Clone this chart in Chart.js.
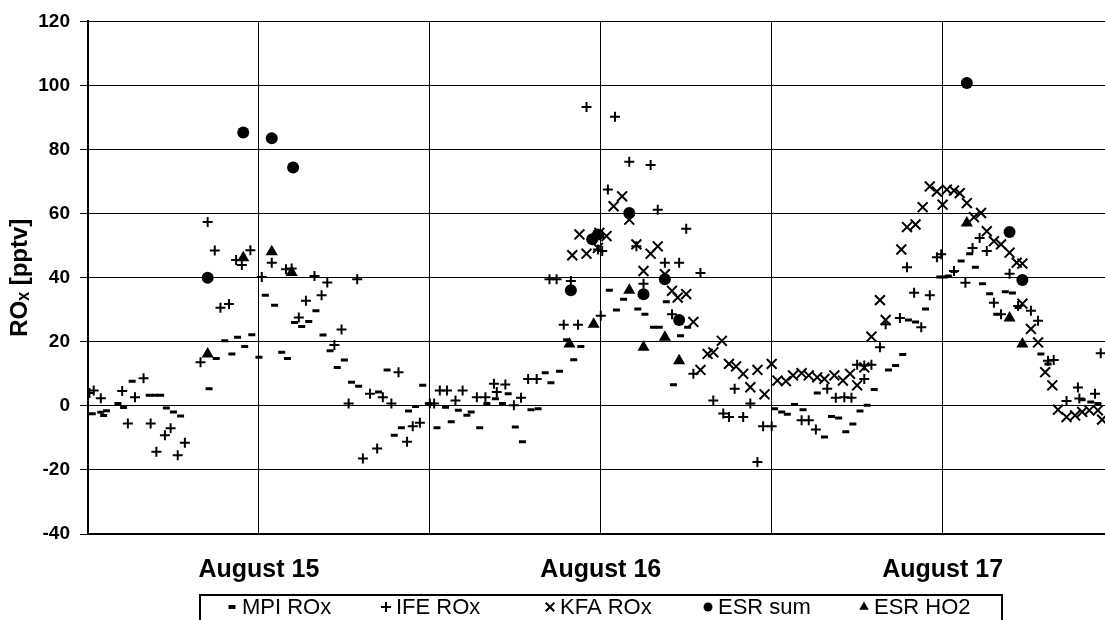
<!DOCTYPE html>
<html>
<head>
<meta charset="utf-8">
<script src="https://cdn.jsdelivr.net/npm/chart.js@4.4.0/dist/chart.umd.min.js"></script>
<style>
html, body { margin: 0; padding: 0; background: #fff; }
</style>
</head>
<body>
<canvas id="chart" width="1105" height="620"></canvas>
<script>
// hours since Aug 15 00:00, values in pptv
const dayLabels = ['August 15', 'August 16', 'August 17'];

const mpiHours = [0.3, 0.9, 1.1, 1.3, 2.1, 2.5, 3.1, 4.3, 4.7, 5.1, 5.5, 6.0, 6.5, 8.5, 9.0, 9.6, 10.1, 10.5, 11.0, 11.5, 12.0, 12.45,
  13.1, 13.6, 14.0, 14.5, 15.0, 15.5, 16.0, 16.5, 17.0, 17.5, 18.0, 18.5, 19.0, 20.4, 21.0, 21.5, 22.0, 22.5, 23.0, 23.5, 23.9,
  24.5, 25.1, 25.5, 26.0, 26.6, 26.9, 27.5, 28.0, 28.6, 29.1, 29.5, 30.0, 30.5, 31.1, 31.6, 32.1, 32.5, 33.1, 33.6, 34.1, 34.6,
  36.6, 37.1, 37.6, 38.6, 39.1, 39.7, 40.1, 40.6, 41.1, 41.6, 42.1,
  48.2, 48.7, 49.1, 49.6, 50.2, 51.2, 51.7, 52.2, 52.7, 53.2, 53.7, 54.2, 54.7, 55.2, 56.2, 56.7, 57.2, 57.6, 58.1, 58.8,
  59.8, 60.1, 60.4, 60.8, 61.3, 61.9, 62.3, 62.8, 63.3, 63.8, 64.4, 64.9, 65.3, 66.9, 67.4, 69.8, 70.4, 70.9];
const mpiValues = [-2.5, -2, -3, -1.5, 0.7, -0.5, 7.7, 3.3, 3.3, 3.3, -0.7, -1.9, -3.2, 5.3, 14.8, 20.3, 16.2, 21.4, 18.5, 22.2, 15.2, 34.5,
  31.4, 16.7, 14.8, 26, 24.8, 26.3, 29.7, 22.1, 17.2, 12, 14.3, 7.4, 6.1, 4.3, 11.2, -9.2, -6.8, -1.6, -0.2, 6.4, 0.7,
  -6.8, -0.4, -5, -1.4, -2.9, -1.9, -6.8, 0.7, 2.2, 0.7, 3.8, -6.6, -11.2, -1.2, -0.9, 10.3, 7.2, 10.8, 20.6, 14.4, 18.5,
  36.1, 29.9, 33.3, 30.2, 28.6, 24.5, 24.5, 32.5, 6.6, 21.9, 24.5,
  -0.9, -1.9, -2.6, 0.4, -1.2, 4, -9.7, -3.3, -3.8, -8.1, -5.7, -1.6, 0.2, 5.1, 11.2, 12.6, 16, 26.8, 26.2, 30.2,
  40.2, 40.2, 40.5, 41.9, 45.2, 47.5, 43.3, 38.1, 35, 28.6, 35.6, 35.2, 30.7, 16.2, 13.1, 1.9, 1.2, 0.7];

const ifeHours = [0.1, 0.4, 0.9, 2.4, 2.8, 3.3, 3.9, 4.4, 4.8, 5.4, 5.8, 6.3, 6.8, 7.9, 8.4, 8.9, 9.3, 9.9, 10.4, 10.8, 11.4,
  12.2, 12.9, 13.9, 14.3, 14.8, 15.3, 15.9, 16.4, 16.8, 17.3, 17.8, 18.3, 18.9, 19.3, 19.8, 20.3, 20.7, 21.3, 21.8, 22.4, 22.8, 23.3,
  24.0, 24.3, 24.7, 25.2, 25.8, 26.3, 27.3, 27.9, 28.5, 28.7, 29.3, 29.9, 30.4, 30.9, 31.5, 32.4, 32.9, 33.4, 33.9, 34.4, 35.0,
  35.8, 36.0, 36.1, 36.5, 37.0, 38.0, 38.5, 39.0, 39.5, 40.0, 40.5, 41.0, 41.5, 42.0, 42.5, 43.0, 43.9, 44.6, 45.0, 45.4, 46.0,
  46.5, 47.0, 47.4, 48.0, 50.1, 50.6, 51.1, 51.9, 52.5, 53.1, 53.6, 54.0, 54.5, 54.5, 55.0, 55.6, 56.0, 57.0, 57.5, 58.0, 58.5,
  59.1, 59.6, 59.9, 60.8, 61.6, 62.1, 62.6, 63.1, 63.6, 64.1, 64.7, 65.3, 66.2, 66.7, 67.4, 67.8, 68.7, 69.5, 69.6, 70.7, 71.1];
const ifeValues = [4, 4.8, 2.4, 4.6, -5.5, 2.7, 8.6, -5.5, -14.3, -9.2, -7, -15.4, -11.5, 13.6, 57.4, 48.5, 30.6, 31.8, 45.5, 44, 48.6,
  40.2, 44.7, 42.6, 42.9, 27.6, 32.8, 40.5, 34.5, 38.5, 19, 23.8, 0.7, 39.5, -16.4, 3.8, -13.3, 2.7, 0.7, 10.5, -11.2, -6.4, -5.3,
  0.7, 0.7, 4.8, 4.8, 1.7, 4.8, 2.7, 2.7, 6.9, 4.3, 6.7, 0.2, 2.5, 8.4, 8.4, 39.5, 39.5, 25.3, 39, 25.3, 93.3,
  48.8, 28.1, 48.3, 67.5, 90.2, 76.2, 49.8, 38.1, 75.2, 61.2, 44.7, 28.6, 44.7, 55.3, 10, 41.5, 1.7, -2.4, -3.5, 5.3, -3.5,
  0.7, -17.5, -6.4, -6.4, -4.5, -4.5, -7.4, 5.3, 2.5, 2.7, 2.5, 12.8, 12.6, 8.4, 12.8, 18.3, 25.5, 27.4, 43.3, 35.3, 24.5,
  34.5, 46.4, 47.3, 42.1, 38.4, 49.3, 52.4, 48.3, 32.2, 28.6, 41.2, 31.2, 29.7, 26.6, 14.1, 14.3, 1.5, 5.7, 2.3, 3.8, 16.4];

const kfaHours = [34.0, 34.5, 35.0, 35.8, 35.9, 36.4, 36.9, 37.5, 38.0, 38.5, 39.0, 39.5, 40.0, 40.5, 41.0, 41.4, 42.0, 42.5,
  43.0, 43.5, 43.9, 44.5, 45.0, 45.5, 46.0, 46.5, 47.0, 47.5, 48.0, 48.4, 49.0, 49.5, 50.1, 50.6, 51.2, 51.7, 52.4, 53.0, 53.5,
  54.0, 54.5, 55.0, 55.6, 56.0, 57.1, 57.5, 58.1, 58.6, 59.1, 59.6, 60.0, 60.3, 60.8, 61.2, 61.7, 62.2, 62.7, 63.1, 63.6, 64.1,
  64.7, 65.2, 65.6, 65.6, 66.2, 66.7, 67.2, 67.7, 68.1, 68.7, 69.3, 69.8, 70.3, 70.9, 71.2];
const kfaValues = [47, 53.5, 47.5, 49.3, 54, 53, 62.3, 65.4, 58.1, 50.4, 42.1, 47.5, 49.8, 41.1, 35.9, 33.8, 34.9, 26.2,
  11.2, 16.2, 16.7, 20.3, 13.1, 12.3, 10, 5.8, 11.2, 3.6, 13.1, 7.9, 7.7, 9.5, 10.2, 9.5, 8.9, 8.4, 9.5, 7.9, 10,
  6.4, 12, 21.6, 33, 26.8, 48.8, 55.8, 56.6, 62, 68.5, 66.9, 62.8, 67.5, 67.2, 66.4, 63.3, 58.9, 60.2, 54.5, 51.4, 50.4,
  47.8, 44.7, 44.4, 31.9, 24, 19.8, 10.5, 6.4, -1.2, -3.5, -3, -1.9, -1.4, -1.4, -4.3];

const esrSumHours = [8.4, 10.9, 12.9, 14.4, 33.9, 35.4, 35.8, 38.0, 39.0, 40.5, 41.5, 61.7, 64.7, 65.6];
const esrSumValues = [40, 85.3, 83.5, 74.4, 36.1, 52, 53.5, 60.2, 34.8, 39.5, 26.8, 100.8, 54.3, 39.3];

const esrHo2Hours = [8.4, 10.9, 12.9, 14.3, 33.8, 35.5, 38.0, 39.0, 40.5, 41.5, 61.7, 64.7, 65.6];
const esrHo2Values = [16.2, 46.2, 48.1, 41.6, 19.3, 25.5, 36.1, 18.3, 21.4, 14.1, 57.1, 27.4, 19.3];

function pts(xs, ys) {
    return xs.map((x, i) => ({ x: x, y: ys[i] }));
}

// legend drawn inside a framed box below the axis labels
const boxLegend = {
    id: 'boxLegend',
    afterDraw(chart) {
        const ctx = chart.ctx;
        const starts = [232, 386, 550, 708, 864];
        const cy = 607;
        ctx.save();
        ctx.strokeStyle = '#000';
        ctx.lineWidth = 2;
        ctx.strokeRect(200, 595, 802, 40);
        ctx.font = '22px Arial';
        ctx.fillStyle = '#000';
        ctx.textBaseline = 'middle';
        chart.data.datasets.forEach((ds, i) => {
            ctx.lineWidth = ds.legendBorder;
            Chart.helpers.drawPoint(ctx, {
                pointStyle: ds.pointStyle,
                radius: ds.legendRadius,
                rotation: 0,
                borderWidth: ds.legendBorder
            }, starts[i], cy);
            ctx.fillText(ds.label, starts[i] + 10, cy + 1);
        });
        ctx.restore();
    }
};

const ctx = document.getElementById('chart').getContext('2d');
new Chart(ctx, {
    type: 'scatter',
    data: {
        datasets: [
            { label: 'MPI ROx', data: pts(mpiHours, mpiValues), pointStyle: 'line', pointRadius: 3.5, borderWidth: 3,
              borderColor: '#000', backgroundColor: '#000', legendRadius: 3.5, legendBorder: 4 },
            { label: 'IFE ROx', data: pts(ifeHours, ifeValues), pointStyle: 'cross', pointRadius: 5, borderWidth: 2,
              borderColor: '#000', backgroundColor: '#000', legendRadius: 5, legendBorder: 2 },
            { label: 'KFA ROx', data: pts(kfaHours, kfaValues), pointStyle: 'crossRot', pointRadius: 7, borderWidth: 2,
              borderColor: '#000', backgroundColor: '#000', legendRadius: 6, legendBorder: 2 },
            { label: 'ESR sum', data: pts(esrSumHours, esrSumValues), pointStyle: 'circle', pointRadius: 6, borderWidth: 0,
              borderColor: '#000', backgroundColor: '#000', legendRadius: 4.5, legendBorder: 0 },
            { label: 'ESR HO2', data: pts(esrHo2Hours, esrHo2Values), pointStyle: 'triangle', pointRadius: 7, borderWidth: 0,
              borderColor: '#000', backgroundColor: '#000', legendRadius: 5.5, legendBorder: 0 }
        ]
    },
    options: {
        responsive: false,
        animation: false,
        layout: { autoPadding: false, padding: { top: 20, right: 0, bottom: 0, left: 0 } },
        plugins: {
            legend: { display: false },
            tooltip: { enabled: false }
        },
        scales: {
            x: {
                type: 'linear',
                min: 0,
                max: 71.4,
                afterBuildTicks: function(scale) {
                    scale.ticks = [0, 12, 24, 36, 48, 60].map(v => ({ value: v }));
                },
                afterFit: function(scale) {
                    scale.height = 86;
                    scale.paddingLeft = 0;
                    scale.paddingRight = 0;
                },
                ticks: {
                    autoSkip: false,
                    maxRotation: 0,
                    padding: 21,
                    color: '#000',
                    font: { family: 'Arial', size: 25, weight: 'bold' },
                    callback: function(value) {
                        return value % 24 === 12 ? dayLabels[Math.floor(value / 24)] : '';
                    }
                },
                grid: { color: '#000', lineWidth: 1, drawTicks: false },
                border: { color: '#000', width: 2 }
            },
            y: {
                min: -40,
                max: 120,
                afterFit: function(scale) { scale.width = 88; },
                ticks: {
                    stepSize: 20,
                    padding: 10,
                    color: '#000',
                    font: { family: 'Arial', size: 19, weight: 'bold' }
                },
                grid: { color: '#000', lineWidth: 1, tickLength: 8 },
                border: { color: '#000', width: 2 },
                title: {
                    display: true,
                    text: 'ROₓ [pptv]',
                    color: '#000',
                    font: { family: 'Arial', size: 24, weight: 'bold' },
                    padding: { top: 6, bottom: 0 }
                }
            }
        }
    },
    plugins: [boxLegend]
});
</script>
</body>
</html>
